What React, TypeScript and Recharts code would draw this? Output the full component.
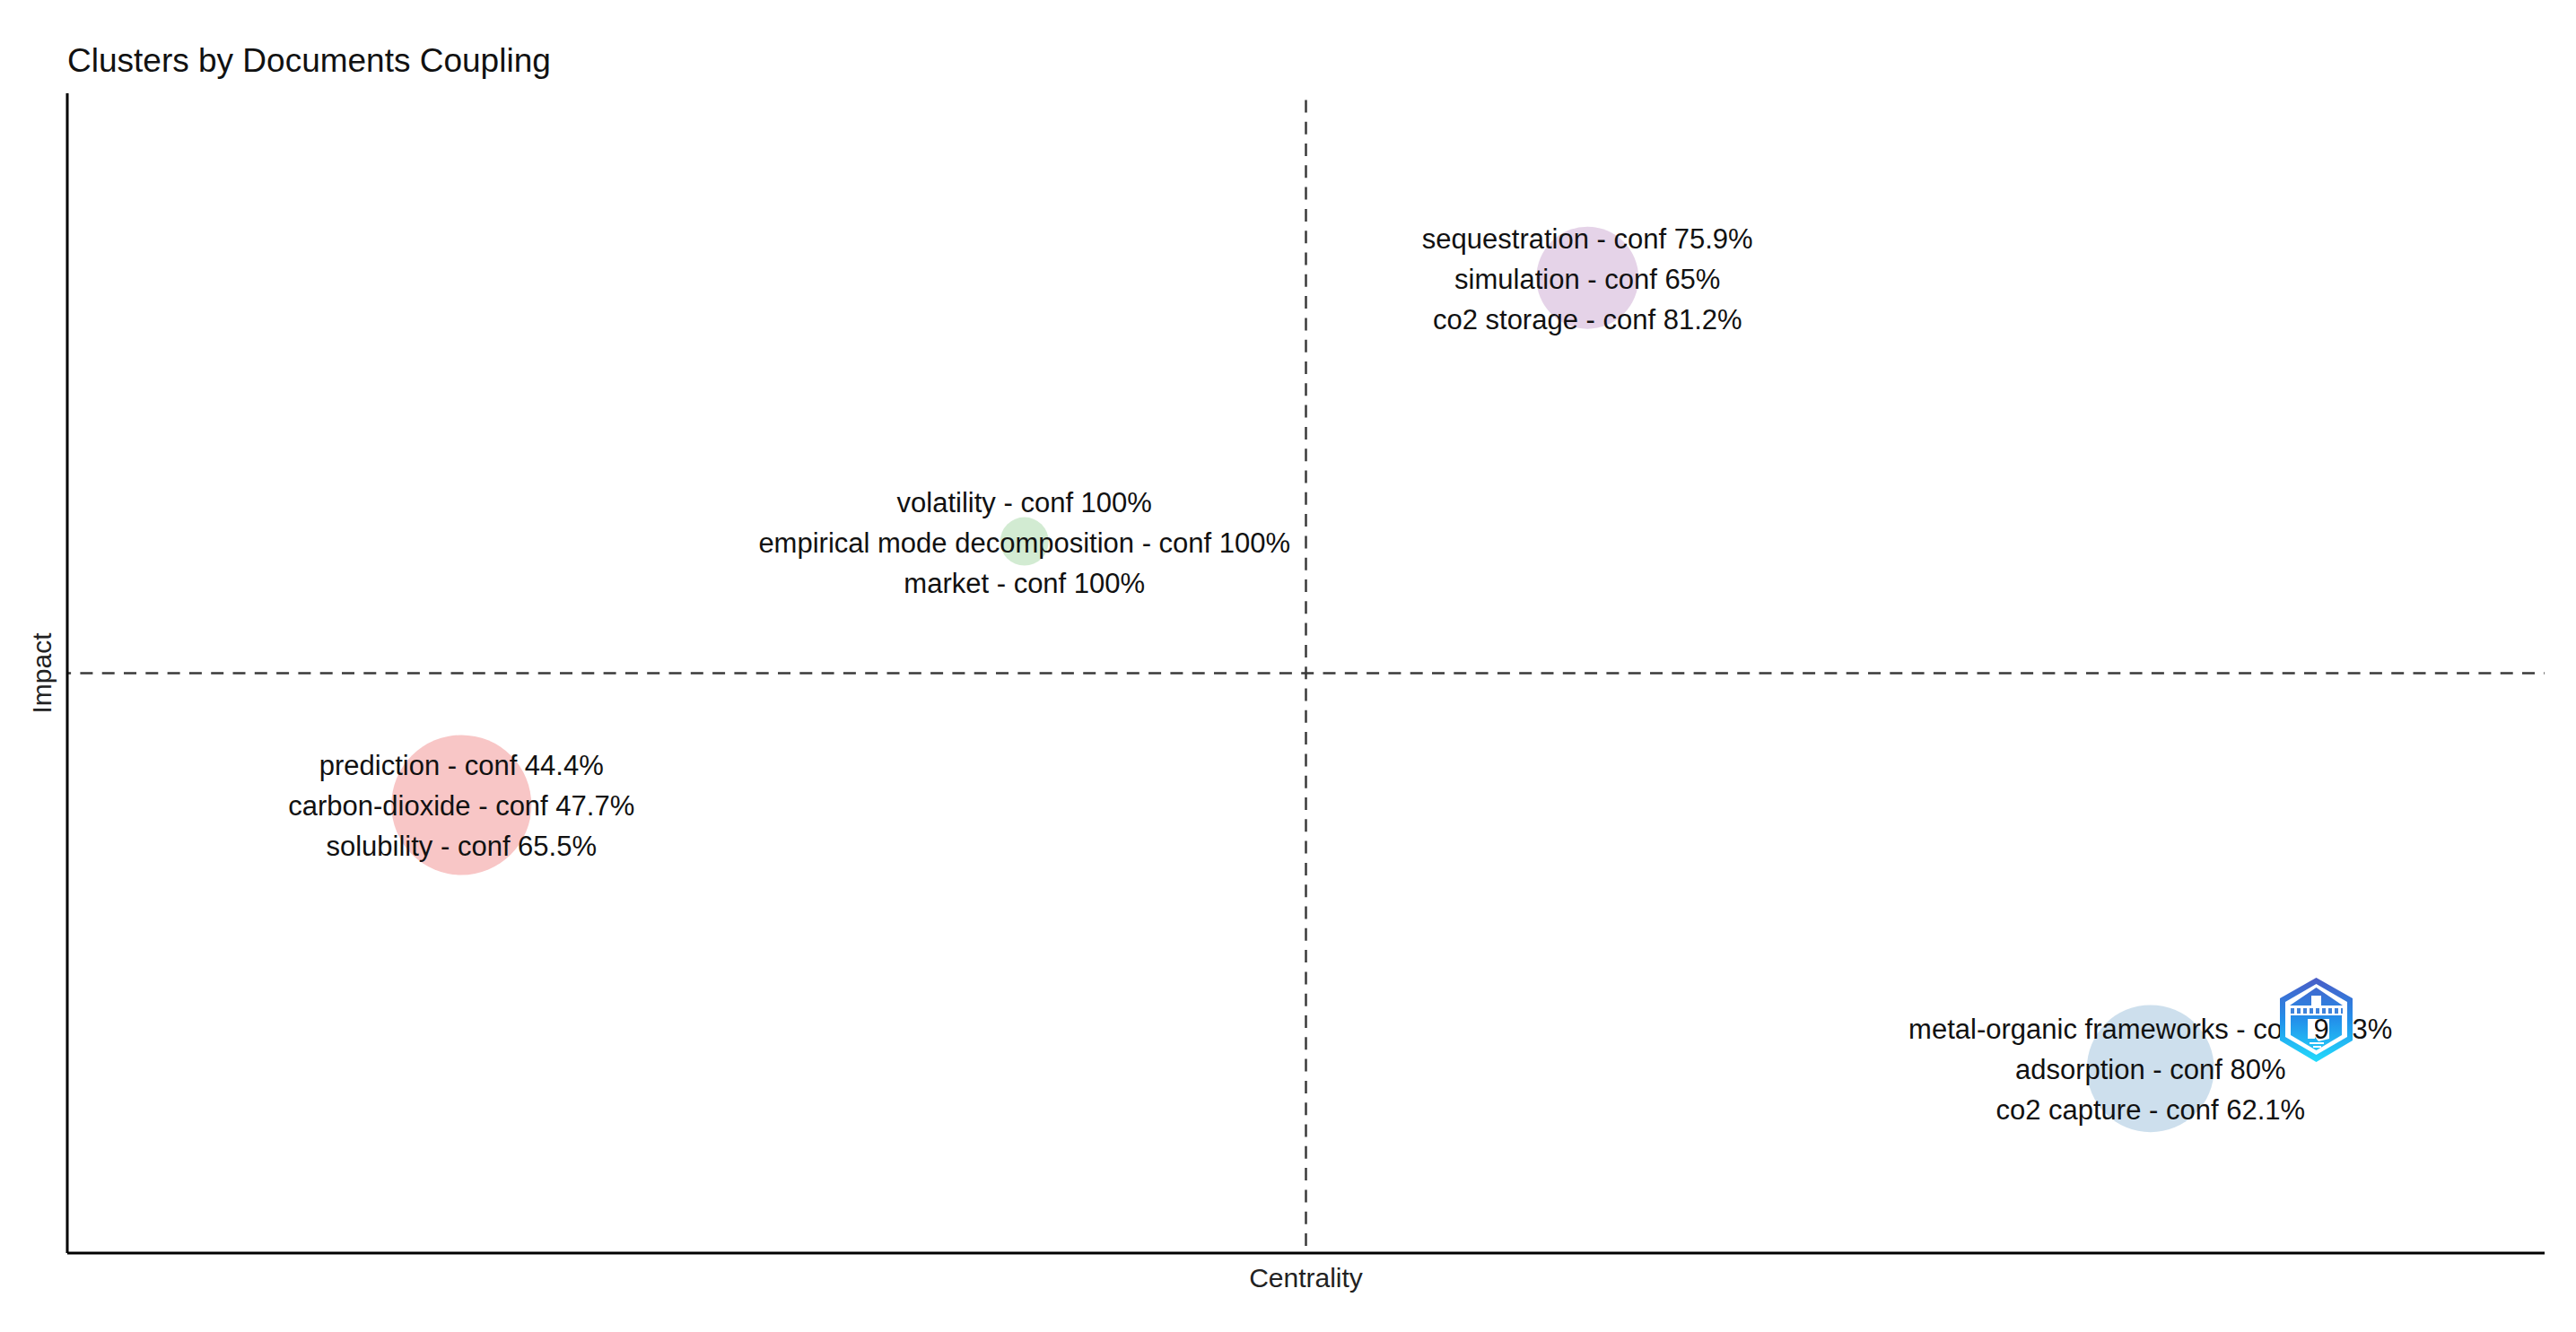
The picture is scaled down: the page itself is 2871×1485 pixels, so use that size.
import React from "react";
import { ScatterChart, Scatter, XAxis, YAxis, ZAxis, ReferenceLine } from "recharts";

const clusterNames = ["prediction", "volatility", "sequestration", "metal-organic frameworks"];
const centralityRank = [1, 2, 3, 4];
const impactRank = [2, 3, 4, 1];
const clusterFreq = [61, 7.3, 32.5, 50.4];
const clusterLabels = [
  ["prediction - conf 44.4%", "carbon-dioxide - conf 47.7%", "solubility - conf 65.5%"],
  ["volatility - conf 100%", "empirical mode decomposition - conf 100%", "market - conf 100%"],
  ["sequestration - conf 75.9%", "simulation - conf 65%", "co2 storage - conf 81.2%"],
  ["metal-organic frameworks - conf 90.3%", "adsorption - conf 80%", "co2 capture - conf 62.1%"],
];
const clusterColors = ["#e41a1c", "#4daf4a", "#984ea3", "#377eb8"];
const rows = clusterNames.map((name, i) => ({
  name,
  centrality: centralityRank[i],
  impact: impactRank[i],
  freq: clusterFreq[i],
  labels: clusterLabels[i],
}));

const FONT = "'Liberation Sans', Arial, sans-serif";
const W = 2871;
const H = 1485;

function Bubble(p: any) {
  const i = rows.findIndex((r) => r.name === p.payload.name);
  const cxx = p.cx ?? p.x + p.width / 2;
  const cyy = p.cy ?? p.y + p.height / 2;
  return (
    <g>
      <circle cx={cxx} cy={cyy} r={p.width / 2} fill={clusterColors[i]} fillOpacity={0.25} />
      {p.payload.labels.map((t: string, k: number) => (
        <text
          key={t}
          x={cxx}
          y={cyy + 1.5 + (k - 1) * 45}
          textAnchor="middle"
          dominantBaseline="central"
          fontFamily={FONT}
          fontSize={31}
          fill="#111"
        >
          {t}
        </text>
      ))}
    </g>
  );
}

function Logo() {
  return (
    <svg
      width={W}
      height={H}
      style={{ position: "absolute", left: 0, top: 0, pointerEvents: "none" }}
    >
      <defs>
        <linearGradient id="lg" gradientUnits="userSpaceOnUse" x1="0" y1="1090" x2="0" y2="1184">
          <stop offset="0" stopColor="#4a5cc6" />
          <stop offset="0.5" stopColor="#2390ea" />
          <stop offset="1" stopColor="#22dcfc" />
        </linearGradient>
        <mask id="holes" maskUnits="userSpaceOnUse" x="2530" y="1080" width="100" height="110">
          <rect x="2530" y="1080" width="100" height="110" fill="#fff" />
          <path d="M2580 1136 L2596 1136 L2596 1158 L2584 1161 L2580 1156 Z" fill="#000" />
        </mask>
      </defs>
      <g mask="url(#holes)">
        <path d="M2581.5 1090 L2622 1113 V1160 L2581.5 1184 L2541 1160 V1113 Z" fill="url(#lg)" />
        <path d="M2581.5 1097 L2616 1117 V1156 L2581.5 1176 L2547 1156 V1117 Z" fill="#fff" />
        <path d="M2581.5 1101 L2611 1121 H2552 Z" fill="url(#lg)" />
        <path d="M2553 1127 H2611" stroke="#3f84dc" strokeWidth={6} strokeDasharray="4 3" fill="none" />
        <path d="M2553 1132 H2610 V1154 L2581.5 1171 L2553 1154 Z" fill="url(#lg)" />
        <path d="M2576 1110 h11 v12 h-11 Z" fill="#fff" />
        <path d="M2572 1136 h8 v22 h-8 Z" fill="#fff" />
        <path d="M2574 1163 h16 M2578 1167 h9" stroke="#fff" strokeWidth={2} fill="none" />
      </g>
    </svg>
  );
}

export default function App() {
  return (
    <div style={{ position: "absolute", left: 0, top: 0, width: W, height: H, background: "#fff" }}>
      <ScatterChart width={W} height={H} margin={{ top: 104, right: 35, bottom: 0, left: 0 }}>
        <text x={75} y={80} fontFamily={FONT} fontSize={37} fill="#111">
          Clusters by Documents Coupling
        </text>
        <XAxis
          type="number"
          dataKey="centrality"
          domain={[0.3, 4.7]}
          tick={false}
          tickLine={false}
          height={88}
          axisLine={{ stroke: "#000", strokeWidth: 3 }}
          label={{ value: "Centrality", position: "insideBottom", offset: 50, fontFamily: FONT, fontSize: 30, fill: "#222" }}
        />
        <YAxis
          type="number"
          dataKey="impact"
          domain={[0.3, 4.7]}
          tick={false}
          tickLine={false}
          width={75}
          axisLine={{ stroke: "#000", strokeWidth: 3 }}
          label={{ value: "Impact", angle: -90, position: "insideLeft", offset: 46, textAnchor: "middle", fontFamily: FONT, fontSize: 30, fill: "#222" }}
        />
        <ZAxis type="number" dataKey="freq" domain={[0, 61]} range={[0, 19113]} />
        <ReferenceLine x={2.5} stroke="#3a3a3a" strokeWidth={2.5} strokeDasharray="14 10.3" strokeDashoffset={-8} />
        <ReferenceLine y={2.5} stroke="#3a3a3a" strokeWidth={2.5} strokeDasharray="14 10.3 14 10.3" strokeDashoffset={-14.4} />
        <Scatter data={rows} isAnimationActive={false} shape={Bubble} />
      </ScatterChart>
      <Logo />
    </div>
  );
}
